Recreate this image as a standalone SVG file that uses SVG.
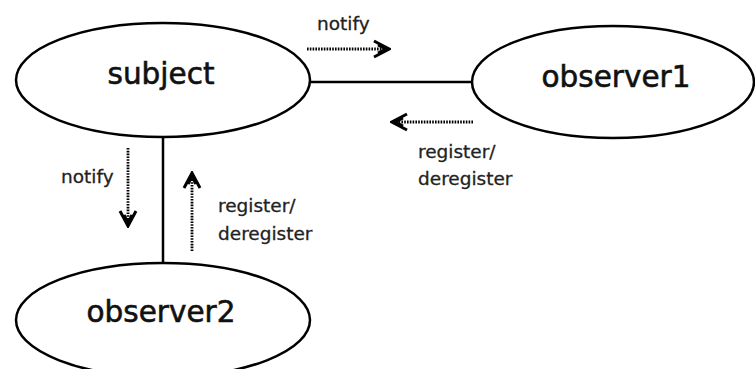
<svg xmlns="http://www.w3.org/2000/svg" width="755" height="369" viewBox="0 0 755 369">
<style>
.node{fill:#fff;stroke:#000;stroke-width:2.5}
.big{font-family:"DejaVu Sans",sans-serif;font-size:29.5px;fill:#111;stroke:#111;stroke-width:0.6;text-anchor:middle}
.lbl{font-family:"DejaVu Sans",sans-serif;font-size:18.5px;fill:#222;stroke:#222;stroke-width:0.3}
.link{stroke:#000;stroke-width:2.5;fill:none}
.dot{stroke:#000;stroke-width:2.8;fill:none;stroke-dasharray:1.6 1.2}
</style>
<defs>
<marker id="chev" viewBox="0 0 20 20" refX="18" refY="10" markerWidth="20" markerHeight="20" markerUnits="userSpaceOnUse" orient="auto">
<path d="M3,2 L18,10 L3,18 M7,6 L15,10 L7,14" fill="none" stroke="#000" stroke-width="3"/>
</marker>
</defs>
<rect width="755" height="369" fill="#fff"/>
<g id="connectors">
<line class="link" x1="310" y1="82" x2="472" y2="82"/>
<line class="link" x1="163" y1="137" x2="163" y2="263"/>
<line class="dot" x1="307" y1="49" x2="389" y2="49" marker-end="url(#chev)"/>
<line class="dot" x1="473" y1="122" x2="392" y2="122" marker-end="url(#chev)"/>
<line class="dot" x1="128" y1="148" x2="128" y2="226" marker-end="url(#chev)"/>
<line class="dot" x1="192" y1="251" x2="192" y2="173" marker-end="url(#chev)"/>
<text class="lbl" x="317" y="30">notify</text>
<text class="lbl" x="418" y="158">register/</text>
<text class="lbl" x="418" y="185">deregister</text>
<text class="lbl" x="61" y="183">notify</text>
<text class="lbl" x="218" y="212">register/</text>
<text class="lbl" x="218" y="240">deregister</text>
</g>
<g id="subject">
<ellipse class="node" cx="163" cy="80" rx="147" ry="57"/>
<text class="big" x="161" y="84">subject</text>
</g>
<g id="observer1">
<ellipse class="node" cx="613" cy="82" rx="141" ry="56"/>
<text class="big" x="616" y="87">observer1</text>
</g>
<g id="observer2">
<ellipse class="node" cx="163" cy="320" rx="147" ry="57"/>
<text class="big" x="161" y="322">observer2</text>
</g>
</svg>
